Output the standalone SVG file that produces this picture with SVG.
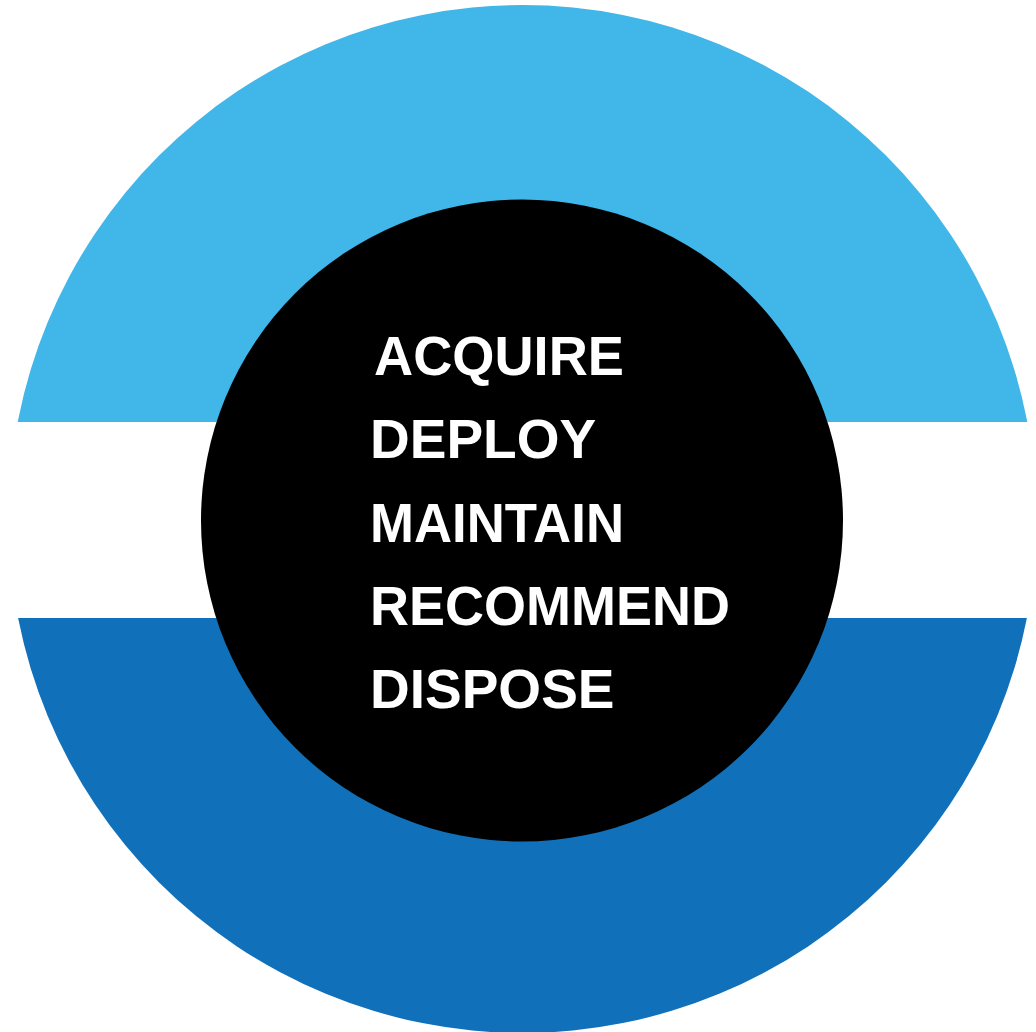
<svg xmlns="http://www.w3.org/2000/svg" width="1036" height="1032" viewBox="0 0 1036 1032">
<defs>
<style>
.lbl{font-family:"Liberation Sans",Arial,sans-serif;font-weight:bold;font-size:55px;fill:#fff}
</style>
<clipPath id="topc"><rect x="0" y="0" width="1036" height="422"/></clipPath>
<clipPath id="botc"><rect x="0" y="618" width="1036" height="414"/></clipPath>
</defs>
<rect width="1036" height="1032" fill="#fff"/>
<g id="ring-top"><circle cx="522.5" cy="519" r="514" fill="#41B6E8" clip-path="url(#topc)"/></g>
<g id="ring-bottom"><circle cx="522.5" cy="519" r="514" fill="#1070B9" clip-path="url(#botc)"/></g>
<g id="core">
<circle cx="522" cy="520.5" r="321" fill="#000"/>
<text class="lbl" x="374" y="375" textLength="250" lengthAdjust="spacingAndGlyphs">ACQUIRE</text>
<text class="lbl" x="370" y="458">DEPLOY</text>
<text class="lbl" x="370" y="542" textLength="254" lengthAdjust="spacingAndGlyphs">MAINTAIN</text>
<text class="lbl" x="370" y="625" textLength="360" lengthAdjust="spacingAndGlyphs">RECOMMEND</text>
<text class="lbl" x="370" y="708">DISPOSE</text>
</g>
</svg>
